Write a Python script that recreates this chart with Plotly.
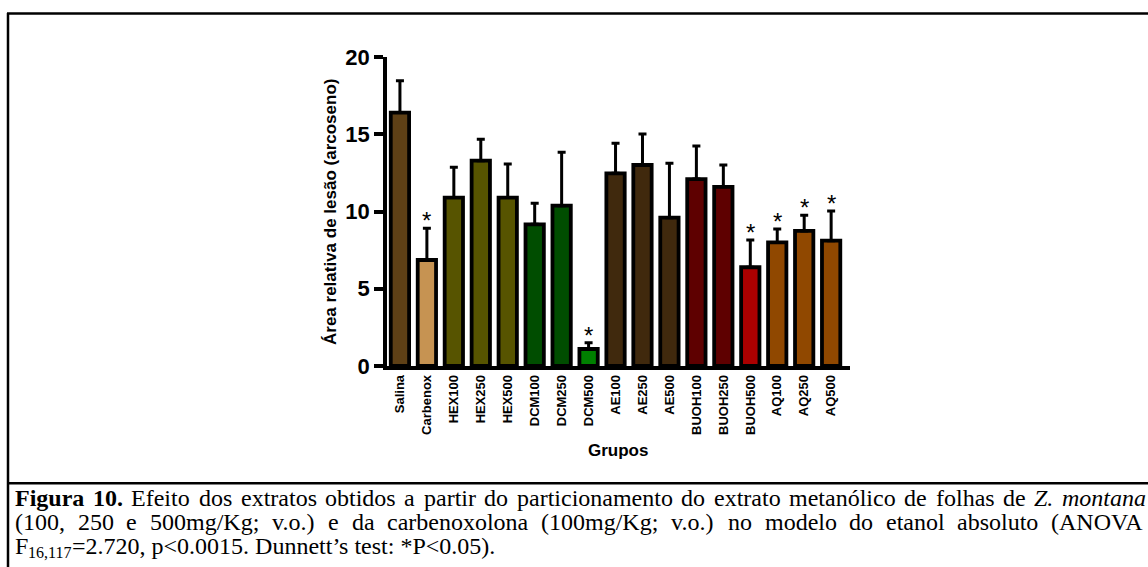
import plotly.graph_objects as go

# Figure size in pixels
W, H = 1148, 567

# ---- data -------------------------------------------------------------
grupos = ["Salina", "Carbenox", "HEX100", "HEX250", "HEX500", "DCM100", "DCM250",
          "DCM500", "AE100", "AE250", "AE500", "BUOH100", "BUOH250", "BUOH500",
          "AQ100", "AQ250", "AQ500"]
media = [16.4, 6.86, 10.9, 13.29, 10.9, 9.17, 10.38, 1.1, 12.47, 13.01, 9.6,
         12.1, 11.6, 6.39, 8.0, 8.74, 8.11]
epm = [2.07, 2.05, 1.96, 1.38, 2.17, 1.36, 3.45, 0.41, 1.94, 2.01, 3.52,
       2.14, 1.41, 1.77, 0.87, 1.01, 1.92]
significativo = [False, True, False, False, False, False, False, True, False,
                 False, False, False, False, True, True, True, True]
cores = ["#5e4016", "#c69352", "#575400", "#575400", "#575400", "#004d00",
         "#004d00", "#008000", "#40290d", "#40290d", "#40290d", "#5e0000",
         "#5e0000", "#ab0000", "#904800", "#904800", "#904800"]
y_ticks = [0, 5, 10, 15, 20]

legenda_l1 = [("Figura", "b"), ("10.", "b"), ("Efeito", ""), ("dos", ""),
              ("extratos", ""), ("obtidos", ""), ("a", ""), ("partir", ""),
              ("do", ""), ("particionamento", ""), ("do", ""), ("extrato", ""),
              ("metanólico", ""), ("de", ""), ("folhas", ""), ("de", ""),
              ("Z.", "i"), ("montana", "i")]
legenda_l2 = "(100, 250 e 500mg/Kg; v.o.) e da carbenoxolona (100mg/Kg; v.o.) no modelo do etanol absoluto (ANOVA"
legenda_l3 = ["F", "16,117", "=2.720, p&lt;0.0015. Dunnett’s test: *P&lt;0.05)."]


def px(x):
    return x / W


def py(y):
    return 1 - y / H


# ---- Times-like advance widths (1/1000 em) used to justify the caption --
TIMES = {" ": 250, "(": 333, ")": 333, ",": 250, ".": 250, "/": 278, ";": 278,
         "A": 722, "E": 611, "F": 556, "K": 722, "N": 722, "O": 722, "V": 722,
         "Z": 611, "a": 444, "b": 500, "c": 444, "d": 500, "e": 444, "f": 333,
         "g": 500, "h": 500, "i": 278, "l": 278, "m": 778, "n": 500, "o": 500,
         "p": 500, "r": 333, "s": 389, "t": 278, "u": 500, "v": 500, "x": 500,
         "ó": 500}
TIMES_B = {"F": 611, "i": 278, "g": 500, "u": 556, "r": 444, "a": 500, ".": 250}
TIMES_I = {"Z": 556, ".": 250, "m": 722, "o": 500, "n": 500, "t": 278, "a": 500}

SERIF = "Liberation Serif, Times New Roman, serif"
SANS = "Liberation Sans, Arial, sans-serif"


def largura(palavra, estilo, size):
    tab = {"b": TIMES_B, "i": TIMES_I}.get(estilo, TIMES)
    return sum(tab.get(c, 500) for c in palavra) / 1000 * size


def texto(x, y, txt, size):
    return dict(x=px(x), y=py(y), xref="paper", yref="paper", text=txt,
                showarrow=False, xanchor="left", yanchor="middle",
                borderpad=0, font=dict(family=SERIF, size=size, color="black"))


def justificar(palavras, x0, x1, y, size):
    ws = [largura(p, e, size) for p, e in palavras]
    gap = (x1 - x0 - sum(ws)) / (len(palavras) - 1)
    anns = []
    x = x0
    for (p, e), w in zip(palavras, ws):
        txt = f"<{e}>{p}</{e}>" if e else p
        anns.append(texto(x, y, txt, size))
        x += w + gap
    return anns


fig = go.Figure()
fig.add_trace(go.Bar(
    x=grupos, y=media, width=0.68,
    marker=dict(color=cores, line=dict(color="black", width=3.8)),
    error_y=dict(type="data", symmetric=False, array=epm,
                 arrayminus=[0] * len(epm), color="black",
                 thickness=3, width=4),
))

anns = []
for g, m, e, s in zip(grupos, media, epm, significativo):
    if s:
        anns.append(dict(x=g, y=m + e, xref="x", yref="y", text="*",
                         showarrow=False, xanchor="center", yanchor="bottom",
                         yshift=-8,
                         font=dict(family=SANS, size=24, color="black")))

# axis titles
anns.append(dict(x=px(330), y=py(212), xref="paper", yref="paper",
                 xanchor="center", yanchor="middle",
                 text="Área relativa de lesão (arcoseno)", textangle=-90,
                 showarrow=False,
                 font=dict(family=SANS, size=17, weight="bold",
                           color="black")))
anns.append(dict(x=px(618), y=py(450), xref="paper", yref="paper",
                 xanchor="center", yanchor="middle",
                 text="Grupos", showarrow=False,
                 font=dict(family=SANS, size=17, weight="bold",
                           color="black")))

# caption: two justified lines, then a left-aligned line with a subscript
CAP = 24
SUB = 16
anns += justificar(legenda_l1, 14, 1145, 498, CAP)
anns += justificar([(w, "") for w in legenda_l2.split(" ")], 14, 1145, 522, CAP)
x_sub = 14 + largura(legenda_l3[0], "", CAP)
x_rest = x_sub + largura(legenda_l3[1], "", SUB)
anns.append(texto(14, 546, legenda_l3[0], CAP))
anns.append(texto(x_sub, 552, legenda_l3[1], SUB))
anns.append(texto(x_rest, 546, legenda_l3[2], CAP))

# frame lines
frame = dict(type="line", xref="paper", yref="paper",
             line=dict(color="black", width=2.5))
shapes = [
    dict(frame, x0=px(7), x1=px(1148), y0=py(13.5), y1=py(13.5)),
    dict(frame, x0=px(8), x1=px(8), y0=py(13), y1=py(567)),
    dict(frame, x0=px(7), x1=px(1148), y0=py(483.3), y1=py(483.3)),
]

fig.update_layout(
    template="none",
    width=W, height=H, autosize=False,
    margin=dict(l=0, r=0, t=0, b=0, pad=0, autoexpand=False),
    paper_bgcolor="white", plot_bgcolor="white",
    showlegend=False, bargap=0.3,
    annotations=anns, shapes=shapes,
    xaxis=dict(domain=[px(387), px(850)], range=[-0.48, 16.7],
               automargin=False,
               showline=True, linewidth=3.5, linecolor="black",
               ticks="", tickangle=-90, showgrid=False, zeroline=False,
               tickfont=dict(family=SANS, size=13, weight="bold",
                             color="black")),
    yaxis=dict(domain=[py(366), py(57)], range=[0, 20],
               automargin=False,
               tickvals=y_ticks, showline=True, linewidth=3.5,
               linecolor="black", ticks="outside", ticklen=9, tickwidth=3.5,
               tickcolor="black", showgrid=False, zeroline=False,
               tickfont=dict(family=SANS, size=22, weight="bold",
                             color="black")),
)

fig.write_html("out.html")
